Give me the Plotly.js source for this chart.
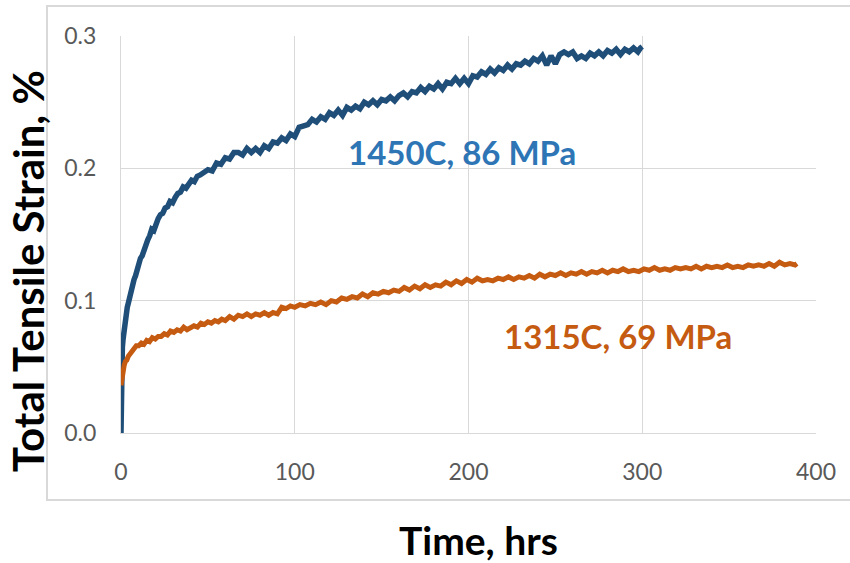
<!DOCTYPE html>
<html>
<head>
<meta charset="utf-8">
<script src="https://cdn.plot.ly/plotly-3.0.1.min.js"></script>
<style>html,body{margin:0;padding:0;background:#fff;}#chart{width:850px;height:563px;}</style>
</head>
<body>
<div id="chart"></div>
<script>
// 1450C, 86 MPa
const blueTime = [0, 0.05, 0.15, 0.3, 0.5, 0.8, 1.2, 1.6, 2, 2.5, 3, 3.6, 4.2, 5, 5.8, 6.6, 7.5, 8.4, 9.3, 10.2, 11.2, 12.2, 13.2, 14.3, 15.4, 16.5, 17.7, 18.9, 20.1, 21.4, 22.7, 24, 25.4, 26.8, 28.2, 29.7, 31.2, 32.7, 34.2, 35.8, 37.4, 39, 40.6, 42.2, 43.9, 45.6, 47.3, 49,
  50, 52.5, 55, 57.5, 60, 62.5, 65, 67.5, 70, 72.5, 75, 77.5, 80, 82.5, 85, 87.5, 90, 92.5, 95, 97.5,
  100, 102.5, 105, 107.5, 110, 112.5, 115, 117.5, 120, 122.5, 125, 127.5, 130, 132.5, 135, 137.5, 140, 142.5, 145, 147.5,
  150, 152.5, 155, 157.5, 160, 162.5, 165, 167.5, 170, 172.5, 175, 177.5, 180, 182.5, 185, 187.5, 190, 192.5, 195, 197.5,
  200, 202.5, 205, 207.5, 210, 212.5, 215, 217.5, 220, 222.5, 225, 227.5, 230, 232.5, 235, 237.5, 240, 242.5, 245, 247.5,
  250, 252.5, 255, 257.5, 260, 262.5, 265, 267.5, 270, 272.5, 275, 277.5, 280, 282.5, 285, 287.5, 290, 292.5, 295, 297.5, 299, 300];
const blueStrain = [0, 0.02, 0.038, 0.05, 0.058, 0.065, 0.071, 0.076, 0.081, 0.086, 0.091, 0.095, 0.098, 0.103, 0.107, 0.111, 0.116, 0.119, 0.124, 0.127, 0.132, 0.134, 0.139, 0.142, 0.146, 0.149, 0.154, 0.153, 0.159, 0.162, 0.165, 0.166, 0.170, 0.171, 0.175, 0.174, 0.178, 0.181, 0.182, 0.186, 0.185, 0.189, 0.191, 0.190, 0.194, 0.195, 0.197, 0.198,
  0.199, 0.198, 0.204, 0.203, 0.208, 0.207, 0.212, 0.212, 0.210, 0.215, 0.212, 0.215, 0.212, 0.217, 0.215, 0.220, 0.219, 0.223, 0.221, 0.226,
  0.224, 0.231, 0.232, 0.233, 0.237, 0.235, 0.239, 0.237, 0.242, 0.240, 0.244, 0.240, 0.246, 0.244, 0.247, 0.245, 0.250, 0.248, 0.251, 0.248,
  0.252, 0.251, 0.254, 0.251, 0.255, 0.257, 0.254, 0.258, 0.257, 0.261, 0.258, 0.262, 0.260, 0.264, 0.260, 0.265, 0.264, 0.268, 0.264, 0.268,
  0.264, 0.270, 0.269, 0.273, 0.271, 0.275, 0.272, 0.276, 0.274, 0.278, 0.275, 0.279, 0.278, 0.281, 0.279, 0.283, 0.281, 0.285, 0.278, 0.285,
  0.279, 0.286, 0.288, 0.286, 0.288, 0.283, 0.285, 0.283, 0.287, 0.285, 0.288, 0.285, 0.289, 0.287, 0.290, 0.286, 0.290, 0.288, 0.291, 0.288, 0.291, 0.292];

// 1315C, 69 MPa
const orangeTime = [0, 0.3, 0.7, 1.2, 1.8, 2.5, 3.3, 4.2, 5.2, 6.3, 7.5, 8.8, 10.2, 11.7, 13.2, 14.8, 16.4, 18, 19.7, 21.4, 23.1, 24.9, 26.7, 28.5, 30.4, 32.3, 34.2, 36.1, 38,
  40, 42, 44, 46, 48, 50, 52, 54, 56, 58, 60, 62.5, 65, 67.5, 70, 72.5, 75, 77.5, 80, 82.5, 85, 87.5, 90, 92.5, 95, 97.5,
  100, 103, 106, 109, 112, 115, 118, 121, 124, 127, 130, 133, 136, 139, 142, 145, 148, 151, 154, 157, 160, 163, 166, 169, 172, 175, 178, 181, 184, 187, 190, 193, 196, 199,
  202, 205, 208, 211, 214, 217, 220, 223, 226, 229, 232, 235, 238, 241, 244, 247, 250, 253, 256, 259, 262, 265, 268, 271, 274, 277, 280, 283, 286, 289, 292, 295, 298,
  301, 304, 307, 310, 313, 316, 319, 322, 325, 328, 331, 334, 337, 340, 343, 346, 349, 352, 355, 358, 361, 364, 367, 370, 373, 376, 379, 382, 385, 388, 389];
const orangeStrain = [0.036, 0.040, 0.045, 0.048, 0.051, 0.054, 0.055, 0.058, 0.060, 0.062, 0.063, 0.066, 0.066, 0.068, 0.067, 0.070, 0.069, 0.072, 0.071, 0.073, 0.073, 0.075, 0.074, 0.077, 0.076, 0.078, 0.077, 0.080, 0.078,
  0.080, 0.081, 0.080, 0.083, 0.082, 0.084, 0.083, 0.085, 0.084, 0.086, 0.085, 0.088, 0.086, 0.089, 0.088, 0.090, 0.088, 0.090, 0.089, 0.091, 0.089, 0.091, 0.090, 0.095, 0.094, 0.096,
  0.095, 0.097, 0.096, 0.098, 0.097, 0.099, 0.097, 0.100, 0.099, 0.102, 0.101, 0.103, 0.102, 0.105, 0.103, 0.106, 0.105, 0.107, 0.106, 0.108, 0.107, 0.110, 0.108, 0.111, 0.109, 0.112, 0.110, 0.112, 0.111, 0.114, 0.112, 0.115, 0.113, 0.116,
  0.114, 0.117, 0.115, 0.116, 0.115, 0.117, 0.116, 0.118, 0.116, 0.118, 0.117, 0.119, 0.117, 0.120, 0.118, 0.120, 0.119, 0.121, 0.119, 0.121, 0.120, 0.122, 0.120, 0.122, 0.121, 0.123, 0.121, 0.123, 0.122, 0.124, 0.122, 0.123, 0.122,
  0.124, 0.123, 0.125, 0.123, 0.124, 0.123, 0.125, 0.124, 0.125, 0.124, 0.126, 0.124, 0.126, 0.125, 0.126, 0.125, 0.127, 0.125, 0.126, 0.125, 0.127, 0.126, 0.127, 0.126, 0.128, 0.126, 0.129, 0.127, 0.128, 0.127, 0.128];

const xTicks = [0, 100, 200, 300, 400];
const yTicks = [0.0, 0.1, 0.2, 0.3];
const yTickText = ["0.0", "0.1", "0.2", "0.3"];

const traces = [
  {x: blueTime, y: blueStrain, type: 'scatter', mode: 'lines', name: '1450C, 86 MPa',
   line: {color: '#1F4E79', width: 5.5}},
  {x: orangeTime, y: orangeStrain, type: 'scatter', mode: 'lines', name: '1315C, 69 MPa',
   line: {color: '#C55A11', width: 5}}
];

const FONT = 'Lato, "Open Sans", sans-serif';
const layout = {
  width: 850, height: 563,
  margin: {l: 121, r: 34, t: 36, b: 130},
  paper_bgcolor: '#ffffff', plot_bgcolor: '#ffffff',
  showlegend: false,
  font: {family: FONT},
  xaxis: {
    range: [0, 400], tickvals: xTicks, ticktext: xTicks.map(String),
    showgrid: true, gridcolor: '#D9D9D9', gridwidth: 1,
    showline: true, linecolor: '#D9D9D9', linewidth: 1,
    zeroline: false, ticks: '', ticklabelstandoff: 18,
    tickfont: {family: FONT, size: 23, color: '#595959'},
    automargin: false
  },
  yaxis: {
    range: [0, 0.3], tickvals: yTicks, ticktext: yTickText,
    showgrid: true, gridcolor: '#D9D9D9', gridwidth: 1,
    showline: true, linecolor: '#D9D9D9', linewidth: 1,
    zeroline: false, ticks: '', ticklabelstandoff: 19,
    tickfont: {family: FONT, size: 23, color: '#595959'},
    automargin: false
  },
  shapes: [
    {type: 'rect', xref: 'paper', yref: 'paper', x0: -0.1065, x1: 1.052, y0: -0.1688, y1: 1.0756,
     line: {color: '#D9D9D9', width: 2}, fillcolor: 'rgba(0,0,0,0)', layer: 'below'}
  ],
  annotations: [
    {x: 196, y: 0.2125, xref: 'x', yref: 'y', text: '<b>1450C, 86 MPa</b>', showarrow: false,
     xanchor: 'center', yanchor: 'middle',
     font: {family: FONT, size: 33, color: '#2E75B6'}},
    {x: 286, y: 0.0735, xref: 'x', yref: 'y', text: '<b>1315C, 69 MPa</b>', showarrow: false,
     xanchor: 'center', yanchor: 'middle',
     font: {family: FONT, size: 33, color: '#C55A11'}},
    {x: 0.5137, y: -0.2705, xref: 'paper', yref: 'paper', text: '<b>Time, hrs</b>', showarrow: false,
     xanchor: 'center', yanchor: 'middle',
     font: {family: FONT, size: 39, color: '#000000'}},
    {x: -0.1338, y: 0.408, xref: 'paper', yref: 'paper', text: '<b>Total Tensile Strain, %</b>', showarrow: false,
     xanchor: 'center', yanchor: 'middle', textangle: -90,
     font: {family: FONT, size: 42, color: '#000000'}}
  ]
};

Plotly.newPlot('chart', traces, layout, {displayModeBar: false, staticPlot: true});
</script>
</body>
</html>
